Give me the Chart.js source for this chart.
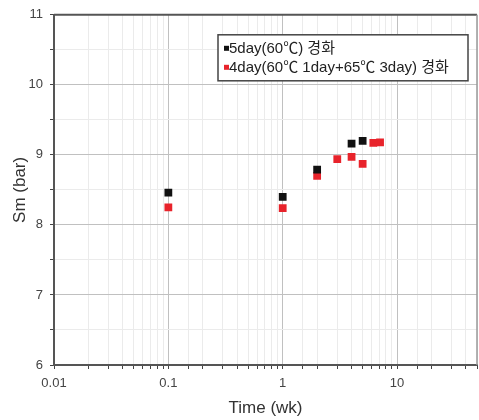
<!DOCTYPE html>
<html lang="ko">
<head>
  <meta charset="UTF-8" />
  <title>Sm vs Time</title>
  <script src="https://cdn.jsdelivr.net/npm/chart.js"></script>
  <style>
    html, body { margin: 0; padding: 0; background: #fff; }
    #wrap { width: 479px; height: 420px; }
  </style>
</head>
<body>
  <div id="wrap"><canvas id="smChart" width="479" height="420"></canvas></div>

  <script>
    // Series data (time in weeks, Sm in bar)
    const seriesLabels = ['5day(60\u2103) 경화', '4day(60\u2103 1day+65\u2103 3day) 경화'];
    const seriesColors = ['#111111', '#e8232b'];
    const timeA = [0.1, 1, 2, 4, 5];
    const smA = [8.46, 8.40, 8.79, 9.16, 9.20];
    const timeB = [0.1, 1, 2, 3, 4, 5, 6.2, 7.1];
    const smB = [8.25, 8.24, 8.70, 8.94, 8.97, 8.87, 9.17, 9.18];
    const xLabels = [0.01, 0.1, 1, 10];
    const yLabels = [6, 7, 8, 9, 10, 11];

    const FONT = "'Liberation Sans', 'Noto Sans CJK KR', sans-serif";

    const toPoints = (xs, ys) => xs.map((x, i) => ({ x: x, y: ys[i] }));

    function isDecade(v) {
      const l = Math.log10(v);
      return Math.abs(l - Math.round(l)) < 1e-6;
    }

    // frame lines on top and right of plot area
    const framePlugin = {
      id: 'frame',
      afterDraw(chart) {
        const { ctx, chartArea: a } = chart;
        ctx.save();
        ctx.lineWidth = 2;
        ctx.strokeStyle = '#555';
        ctx.beginPath();
        ctx.moveTo(a.left, a.top);
        ctx.lineTo(a.right, a.top);
        ctx.stroke();
        ctx.strokeStyle = '#999';
        ctx.lineWidth = 1.5;
        ctx.beginPath();
        ctx.moveTo(a.right, a.top);
        ctx.lineTo(a.right, a.bottom);
        ctx.stroke();
        ctx.restore();
      }
    };

    // boxed legend inside the plot area
    const boxLegend = {
      id: 'boxLegend',
      afterDraw(chart) {
        const { ctx, chartArea: a } = chart;
        const left = a.right - 259, top = a.top + 20, w = 250, h = 46;
        ctx.save();
        ctx.fillStyle = '#fff';
        ctx.fillRect(left, top, w, h);
        ctx.lineWidth = 1.5;
        ctx.strokeStyle = '#444';
        ctx.strokeRect(left, top, w, h);
        ctx.font = '15px ' + FONT;
        ctx.textBaseline = 'middle';
        chart.data.datasets.forEach((ds, i) => {
          const y = top + 14 + i * 19;
          ctx.fillStyle = ds.backgroundColor;
          ctx.fillRect(left + 6, y - 3, 5, 5);
          ctx.fillStyle = '#222';
          ctx.fillText(ds.label, left + 11, y);
        });
        ctx.restore();
      }
    };

    new Chart(document.getElementById('smChart'), {
      type: 'scatter',
      data: {
        datasets: [
          {
            label: seriesLabels[0],
            data: toPoints(timeA, smA),
            backgroundColor: seriesColors[0],
            borderWidth: 0,
            pointStyle: 'rect',
            pointRadius: 5.5
          },
          {
            label: seriesLabels[1],
            data: toPoints(timeB, smB),
            backgroundColor: seriesColors[1],
            borderWidth: 0,
            pointStyle: 'rect',
            pointRadius: 5.5
          }
        ]
      },
      options: {
        responsive: false,
        animation: false,
        layout: { autoPadding: false, padding: { top: 14, right: 2, left: 0, bottom: 0 } },
        plugins: {
          legend: { display: false },
          tooltip: { enabled: false }
        },
        scales: {
          x: {
            type: 'logarithmic',
            min: 0.01,
            max: 50,
            afterFit(scale) {
              scale.height = 55;
              scale.paddingLeft = 0;
              scale.paddingRight = 0;
            },
            border: { color: '#555', width: 2 },
            grid: {
              color: ctx => isDecade(ctx.tick.value) ? '#c0c0c0' : '#ebebeb',
              tickColor: '#444',
              tickLength: 4,
              lineWidth: 1
            },
            ticks: {
              autoSkip: false,
              maxRotation: 0,
              padding: 7,
              color: '#444',
              font: { family: FONT, size: 13 },
              callback: v => xLabels.includes(v) ? String(v) : ''
            },
            title: {
              display: true,
              text: 'Time (wk)',
              color: '#333',
              font: { family: FONT, size: 17 },
              padding: { top: 0, bottom: 1 }
            }
          },
          y: {
            min: 6,
            max: 11,
            afterFit(scale) { scale.width = 54; },
            border: { color: '#555', width: 2 },
            grid: {
              color: ctx => Number.isInteger(ctx.tick.value) ? '#c0c0c0' : '#ebebeb',
              tickColor: '#444',
              tickLength: 4,
              lineWidth: 1
            },
            ticks: {
              stepSize: 0.5,
              padding: 7,
              color: '#444',
              font: { family: FONT, size: 13 },
              callback: v => yLabels.includes(v) ? String(v) : ''
            },
            title: {
              display: true,
              text: 'Sm (bar)',
              color: '#333',
              font: { family: FONT, size: 17 },
              padding: { top: 10, bottom: 0 }
            }
          }
        }
      },
      plugins: [framePlugin, boxLegend]
    });
  </script>
</body>
</html>
